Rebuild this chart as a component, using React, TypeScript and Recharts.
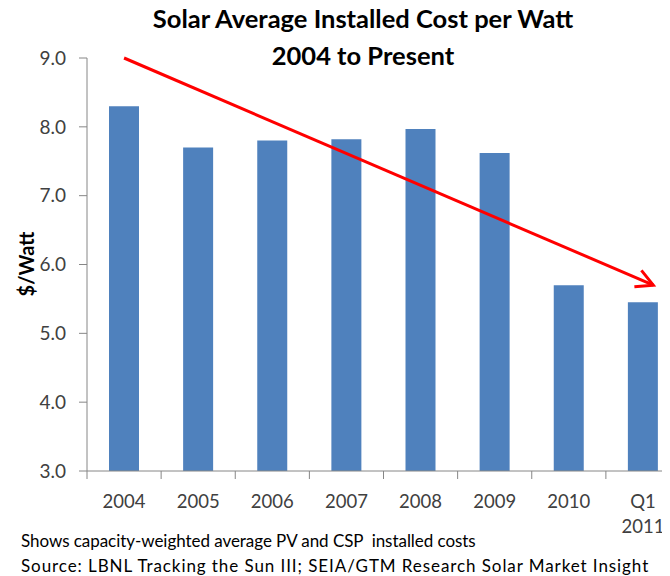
import React from 'react';
import { ComposedChart, Bar, XAxis, YAxis, ReferenceLine } from 'recharts';

const FONT = 'Lato, "Open Sans", sans-serif';

const categories = ['2004', '2005', '2006', '2007', '2008', '2009', '2010', 'Q1 2011'];
const costPerWatt = [8.3, 7.7, 7.8, 7.82, 7.97, 7.62, 5.7, 5.45];
const yTicks = [3, 4, 5, 6, 7, 8, 9];
// integer ticks carry the category labels, half ticks mark the category boundaries
const xTicks = [-0.5, 0, 0.5, 1, 1.5, 2, 2.5, 3, 3.5, 4, 4.5, 5, 5.5, 6, 6.5, 7, 7.5];
const xDomain = [-0.5, 7.5];
const trendStart = { x: 0, y: 9.0 };
const trendEnd = { x: 7.14, y: 5.7 };

const titleLines = ['Solar Average Installed Cost per Watt', '2004 to Present'];
const footnotes = [
  'Shows capacity-weighted average PV and CSP\u00a0 installed costs',
  'Source: LBNL Tracking the Sun III; SEIA/GTM Research Solar Market Insight',
];

const data = categories.map((c, i) => ({ idx: i, name: c, value: costPerWatt[i] }));

const AXIS_COLOR = '#868686';
const TEXT_COLOR = '#404040';
const X_TICK_LEN = 8;

const XTick = (props: any) => {
  const { x, y, payload } = props;
  const v = Number(payload.value);
  if (!Number.isInteger(v)) {
    return <line x1={x} x2={x} y1={y} y2={y + X_TICK_LEN} stroke={AXIS_COLOR} strokeWidth={1} />;
  }
  const label = categories[v] ?? '';
  const lines = label.split(' ');
  return (
    <text x={x} y={y} textAnchor="middle" fill={TEXT_COLOR} fontSize={18.5} fontFamily={FONT}>
      {lines.map((l, i) => (
        <tspan key={i} x={x} dy={i === 0 ? 37 : 25}>
          {l}
        </tspan>
      ))}
    </text>
  );
};

const Arrow = (props: any) => {
  const { x1, y1, x2, y2 } = props;
  const ang = Math.atan2(y2 - y1, x2 - x1);
  const L = 19;
  const a = (28 * Math.PI) / 180;
  const p1 = [x2 - L * Math.cos(ang - a), y2 - L * Math.sin(ang - a)];
  const p2 = [x2 - L * Math.cos(ang + a), y2 - L * Math.sin(ang + a)];
  return (
    <g>
      <line x1={x1} y1={y1} x2={x2} y2={y2} stroke="#FF0000" strokeWidth={3} />
      <polyline
        points={`${p1[0]},${p1[1]} ${x2},${y2} ${p2[0]},${p2[1]}`}
        fill="none"
        stroke="#FF0000"
        strokeWidth={3}
      />
    </g>
  );
};

export default function App() {
  return (
    <div
      style={{
        position: 'relative',
        width: 670,
        height: 576,
        margin: '-8px 0 0 -8px',
        overflow: 'hidden',
        fontFamily: FONT,
        background: '#fff',
      }}
    >
      <div
        style={{
          position: 'absolute',
          left: 63,
          top: 0,
          width: 600,
          textAlign: 'center',
          fontWeight: 700,
          fontSize: 25.5,
          lineHeight: '37px',
          color: '#000',
        }}
      >
        {titleLines.map((t, i) => (
          <div key={i}>{t}</div>
        ))}
      </div>
      <div
        style={{
          position: 'absolute',
          left: 26 - 50,
          top: 264 - 12,
          width: 100,
          height: 24,
          lineHeight: '24px',
          textAlign: 'center',
          transform: 'rotate(-90deg)',
          fontWeight: 700,
          fontSize: 20,
          color: '#000',
        }}
      >
        $/Watt
      </div>
      <div style={{ position: 'absolute', left: 0, top: 0 }}>
        <ComposedChart
          width={680}
          height={576}
          data={data}
          margin={{ top: 58, right: 0, left: 0, bottom: 37 }}
        >
          <XAxis
            xAxisId="n"
            dataKey="idx"
            type="number"
            domain={xDomain}
            allowDataOverflow
            ticks={xTicks}
            interval={0}
            tick={<XTick />}
            height={68}
            tickSize={0}
            tickMargin={0}
            axisLine={{ stroke: AXIS_COLOR }}
            tickLine={false}
          />
          <YAxis
            width={87}
            domain={[3, 9]}
            ticks={yTicks}
            allowDataOverflow
            tickFormatter={(v: number) => v.toFixed(1)}
            tickSize={8}
            tickMargin={13}
            axisLine={{ stroke: AXIS_COLOR }}
            tickLine={{ stroke: AXIS_COLOR }}
            tick={{ fill: TEXT_COLOR, fontSize: 19, fontFamily: FONT }}
          />
          <Bar
            xAxisId="n"
            dataKey="value"
            fill="#4F81BD"
            barSize={30}
            isAnimationActive={false}
          />
          <ReferenceLine
            xAxisId="n"
            segment={[trendStart, trendEnd]}
            ifOverflow="visible"
            shape={Arrow}
          />
        </ComposedChart>
      </div>
      {footnotes.map((t, i) => (
        <div
          key={i}
          style={{
            position: 'absolute',
            left: 21,
            top: 529 + i * 25,
            fontSize: 17,
            lineHeight: '24px',
            letterSpacing: i === 0 ? '-0.05px' : '0.92px',
            color: '#000',
            whiteSpace: 'pre',
          }}
        >
          {t}
        </div>
      ))}
    </div>
  );
}
